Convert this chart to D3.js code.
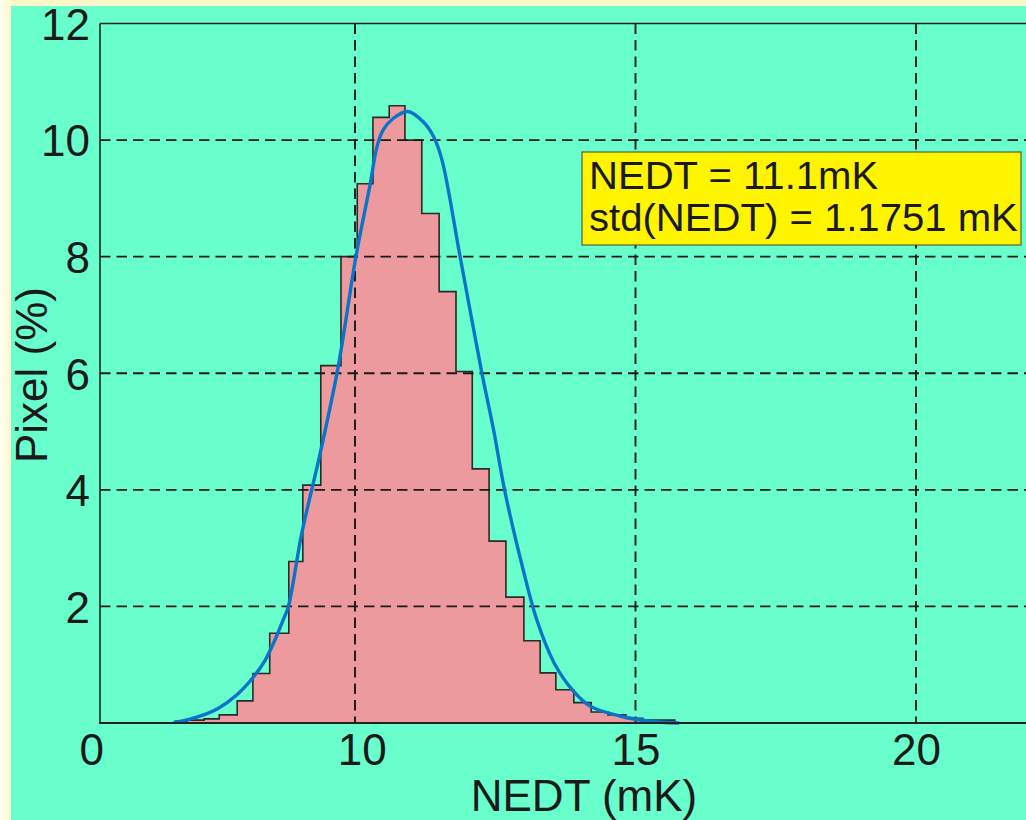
<!DOCTYPE html>
<html>
<head>
<meta charset="utf-8">
<script src="https://cdn.jsdelivr.net/npm/d3@7"></script>
<style>
  html, body { margin: 0; padding: 0; background: #FFFBD2; }
  svg { display: block; }
  text { font-family: "Liberation Sans", Arial, Helvetica, sans-serif; fill: #1a1a1a; }
</style>
</head>
<body>
<svg id="chart" width="1026" height="820"></svg>
<script>
// ---- data ----
const binEdges = [6.79, 7.01, 7.31, 7.58, 7.90, 8.18, 8.48, 8.82, 9.07, 9.39, 9.75, 10.04, 10.32, 10.61, 10.89,
                  11.19, 11.50, 11.80, 12.09, 12.39, 12.69, 13.01, 13.30, 13.58, 13.90, 14.21, 14.51, 14.83,
                  15.13, 15.44, 15.70];
const binPct = [0.03, 0.05, 0.07, 0.14, 0.38, 0.85, 1.54, 2.77, 4.08, 6.13, 8.00, 9.25, 10.39, 10.59, 10.00,
                8.74, 7.40, 6.03, 4.36, 3.12, 2.16, 1.41, 0.86, 0.57, 0.35, 0.19, 0.14, 0.08, 0.05, 0.05];
const fitX = [6.79, 7.21, 7.56, 7.89, 8.19, 8.40, 8.57, 8.72, 8.81, 9.05, 9.38, 9.70, 10.02, 10.27, 10.39, 10.50,
              10.68, 10.94, 11.22, 11.40, 11.55, 11.87, 12.26, 12.47, 12.67, 13.00, 13.24, 13.55, 13.89,
              14.19, 14.72, 15.26, 15.76];
const fitY = [0.01, 0.11, 0.25, 0.48, 0.79, 1.08, 1.42, 1.77, 1.99, 3.25, 4.63, 6.11, 8.02, 9.24, 9.88, 10.17,
              10.37, 10.49, 10.31, 10.06, 9.66, 8.02, 6.01, 5.03, 3.98, 2.62, 1.77, 1.03, 0.55,
              0.29, 0.12, 0.03, 0.00];
const yTicks = [2, 4, 6, 8, 10, 12];
const yGrid = [2, 4, 6, 8, 10];
const xGrid = [10, 15, 20];
const xTickPos = [5.3, 10.12, 15, 20];
const xTickLabels = ["0", "10", "15", "20"];
const xTitle = "NEDT (mK)";
const yTitle = "Pixel (%)";
const noteLines = ["NEDT = 11.1mK", "std(NEDT) = 1.1751 mK"];

// ---- layout ----
const svg = d3.select("#chart");
const W = 1026, H = 820;
const pLeft = 100, pTop = 23.5, pBottom = 723;

const x = d3.scaleLinear().domain([10, 20]).range([355, 916]);
const y = d3.scaleLinear().domain([0, 12]).range([pBottom, pTop]);

// backgrounds
const defs = svg.append("defs");
const g1 = defs.append("linearGradient").attr("id", "pageGrad").attr("x1", 0).attr("x2", 1).attr("y1", 0).attr("y2", 0);
g1.append("stop").attr("offset", "0%").attr("stop-color", "#FFFFEE");
g1.append("stop").attr("offset", "1.2%").attr("stop-color", "#FFF7C9");
g1.append("stop").attr("offset", "100%").attr("stop-color", "#FFF7C9");
svg.append("rect").attr("width", W).attr("height", H).attr("fill", "url(#pageGrad)");
svg.append("rect").attr("x", 11).attr("y", 6).attr("width", W - 11).attr("height", H - 6).attr("fill", "#68FFCC");

// histogram bars (fill)
const bins = binPct.map((v, i) => ({ x0: binEdges[i], x1: binEdges[i + 1], v }));
svg.append("g").selectAll("rect").data(bins).join("rect")
  .attr("x", d => x(d.x0))
  .attr("y", d => y(d.v))
  .attr("width", d => x(d.x1) - x(d.x0) + 0.6)
  .attr("height", d => y(0) - y(d.v))
  .attr("fill", "#EC9A9E");

// histogram outline (stairs)
const stairPts = [[binEdges[0], 0]];
bins.forEach(d => { stairPts.push([d.x0, d.v]); stairPts.push([d.x1, d.v]); });
stairPts.push([binEdges[binEdges.length - 1], 0]);
svg.append("path")
  .attr("d", d3.line().x(p => x(p[0])).y(p => y(p[1]))(stairPts))
  .attr("fill", "none").attr("stroke", "#2a2a2a").attr("stroke-width", 1.6)
  .attr("stroke-linejoin", "miter");

// grid
const grid = svg.append("g").attr("stroke", "#1a1a1a").attr("stroke-width", 1.9).attr("stroke-dasharray", "10.5,6");
grid.selectAll("line.h").data(yGrid).join("line").attr("class", "h")
  .attr("x1", pLeft).attr("x2", W).attr("y1", d => y(d)).attr("y2", d => y(d));
grid.selectAll("line.v").data(xGrid).join("line").attr("class", "v")
  .attr("x1", d => x(d)).attr("x2", d => x(d)).attr("y1", pTop).attr("y2", pBottom);

// fitted curve
const fit = fitX.map((v, i) => [v, fitY[i]]);
svg.append("path")
  .attr("d", d3.line().x(p => x(p[0])).y(p => y(p[1])).curve(d3.curveCatmullRom.alpha(0.5))(fit))
  .attr("fill", "none").attr("stroke", "#0A74C8").attr("stroke-width", 3.4).attr("stroke-linecap", "round");

// frame
const frame = svg.append("g").attr("stroke", "#222").attr("fill", "none");
frame.append("line").attr("x1", pLeft).attr("x2", pLeft).attr("y1", pTop).attr("y2", pBottom).attr("stroke-width", 1.6);
frame.append("line").attr("x1", pLeft).attr("x2", W).attr("y1", pTop).attr("y2", pTop).attr("stroke-width", 1.6);
frame.append("line").attr("x1", pLeft - 0.8).attr("x2", W).attr("y1", pBottom).attr("y2", pBottom).attr("stroke-width", 2.2);

// y ticks via axis
const yAxis = svg.append("g").attr("transform", `translate(${pLeft},0)`)
  .call(d3.axisLeft(y).tickValues(yTicks).tickSize(0).tickPadding(10).tickFormat(d3.format("d")));
yAxis.select(".domain").remove();
yAxis.selectAll("text").attr("font-size", 44).attr("dy", "0.36em").attr("fill", "#1a1a1a")
  .style("font-family", "'Liberation Sans', Arial, sans-serif");

// x ticks via axis
const xAxis = svg.append("g").attr("transform", `translate(0,${pBottom})`)
  .call(d3.axisBottom(x).tickValues(xTickPos).tickSize(0).tickPadding(10)
    .tickFormat((d, i) => xTickLabels[i]));
xAxis.select(".domain").remove();
xAxis.selectAll("text").attr("font-size", 44).attr("dy", null).attr("y", 42).attr("fill", "#1a1a1a")
  .style("font-family", "'Liberation Sans', Arial, sans-serif");

// axis titles
svg.append("text").attr("x", 584).attr("y", 811).attr("text-anchor", "middle")
  .attr("font-size", 44).text(xTitle);
svg.append("text").attr("transform", "translate(47,375) rotate(-90)").attr("text-anchor", "middle")
  .attr("font-size", 44).text(yTitle);

// annotation box
svg.append("rect").attr("x", 582).attr("y", 152).attr("width", 439).attr("height", 93)
  .attr("fill", "#FFF500").attr("stroke", "#5a5a3a").attr("stroke-width", 1.2);
svg.append("g").selectAll("text").data(noteLines).join("text")
  .attr("transform", (d, i) => `translate(589,${189 + i * 42}) scale(1.055,1)`)
  .attr("font-size", 38).text(d => d);
</script>
</body>
</html>
